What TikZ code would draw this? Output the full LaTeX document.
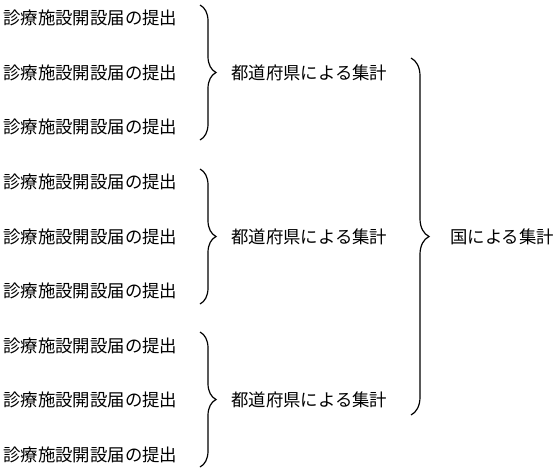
\documentclass[tikz,border=0pt]{standalone}
\usepackage{fontspec}
\newfontfamily\jpfont{Noto Sans CJK JP}
\usetikzlibrary{decorations.pathreplacing}

\begin{document}
\begin{tikzpicture}[
      x=1pt, y=-1pt,
      every node/.style={font=\jpfont\fontsize{17.4}{18}\selectfont, inner sep=0pt, anchor=west},
      filing/.style={},
      tally/.style={},
      brc/.style={draw, line width=1.2pt, decorate, decoration={brace, amplitude=16pt}},
      bigbrc/.style={draw, line width=1.2pt, decorate, decoration={brace, amplitude=18pt}}
    ]
      \useasboundingbox (0,0) rectangle (559,472);

      % filings
      \node[filing] (f1) at (3,18) {診療施設開設届の提出};
      \node[filing] (f2) at (3,73) {診療施設開設届の提出};
      \node[filing] (f3) at (3,127) {診療施設開設届の提出};
      \node[filing] (f4) at (3,182) {診療施設開設届の提出};
      \node[filing] (f5) at (3,237) {診療施設開設届の提出};
      \node[filing] (f6) at (3,291) {診療施設開設届の提出};
      \node[filing] (f7) at (3,346) {診療施設開設届の提出};
      \node[filing] (f8) at (3,400) {診療施設開設届の提出};
      \node[filing] (f9) at (3,455) {診療施設開設届の提出};

      % prefecture tallies
      \node[tally] (p1) at (231,73) {都道府県による集計};
      \node[tally] (p2) at (231,237) {都道府県による集計};
      \node[tally] (p3) at (231,400) {都道府県による集計};

      % national tally
      \node[tally] (nat) at (450,237) {国による集計};

      \coordinate (b1t) at (200,5);
      \coordinate (b1b) at (200,140);
      \coordinate (b2t) at (200,169);
      \coordinate (b2b) at (200,304);
      \coordinate (b3t) at (200,332);
      \coordinate (b3b) at (200,467);
      \coordinate (b4t) at (411,58);
      \coordinate (b4b) at (411,415);

      \draw[brc] (b1t) -- (b1b);
      \draw[brc] (b2t) -- (b2b);
      \draw[brc] (b3t) -- (b3b);
      \draw[bigbrc] (b4t) -- (b4b);
    \end{tikzpicture}
\end{document}
